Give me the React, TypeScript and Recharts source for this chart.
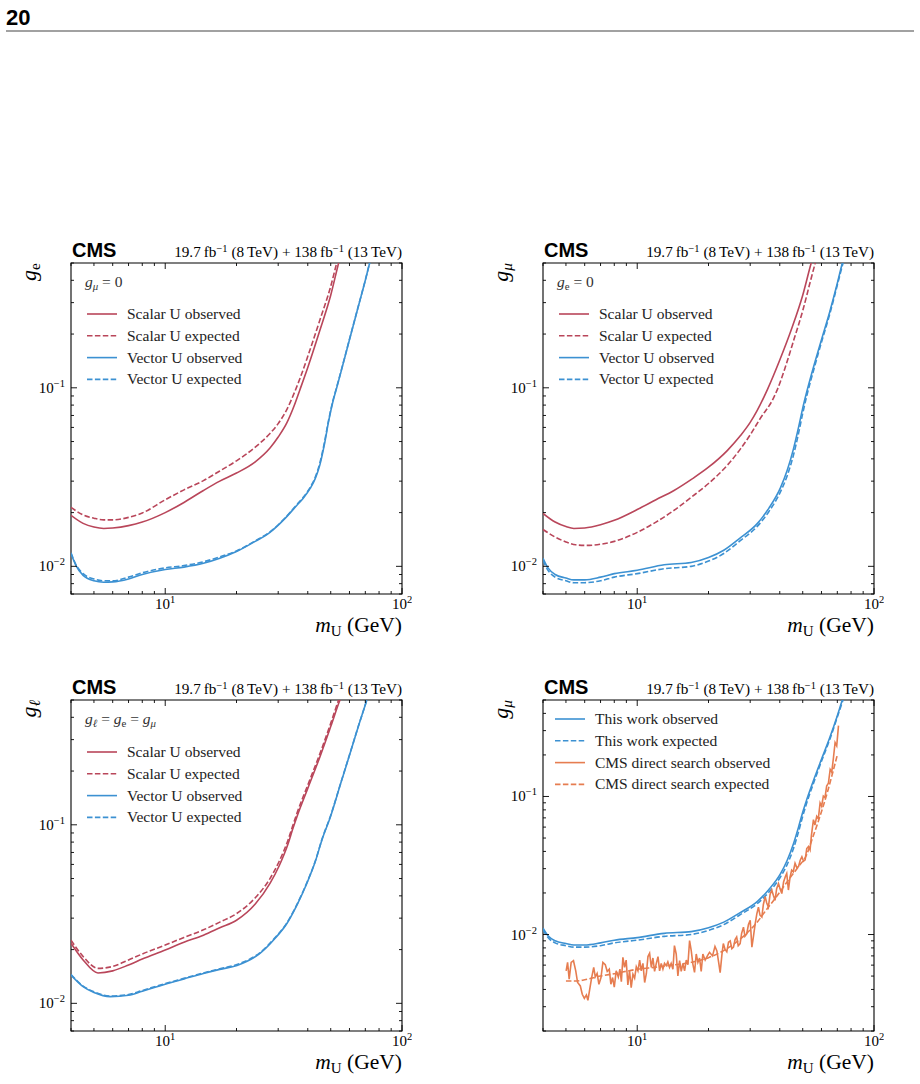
import React from 'react';
import { LineChart, Line, XAxis, YAxis, ReferenceArea } from 'recharts';

type Pt = [number, number]; // [m_U in GeV, coupling]

const RED = '#b9465a';
const BLUE = '#3c91d2';
const ORANGE = '#e67d50';
const DASH = '5.5 2.4';
const SERIF = '"Liberation Serif", "DejaVu Serif", serif';
const SANS = '"Liberation Sans", Arial, sans-serif';

// electron coupling, g_mu = 0
const eScalarObs: Pt[] = [
  [4, 0.0193], [4.5, 0.0174], [5, 0.0166], [5.5, 0.0163], [6, 0.0164], [7, 0.0169], [8, 0.0177],
  [10, 0.0200], [12, 0.0228], [14.5, 0.0266], [17, 0.0300], [20, 0.0333], [24, 0.0385], [27.7, 0.0460],
  [30, 0.0530], [32.7, 0.0640], [35, 0.0790], [37, 0.0970], [40, 0.130], [45, 0.210], [50, 0.330],
  [54, 0.50], [57, 0.65],
];
const eScalarExp: Pt[] = [
  [4, 0.0214], [4.5, 0.0194], [5, 0.0186], [5.5, 0.0182], [6, 0.0182], [7, 0.0188], [8, 0.0199],
  [10, 0.0236], [12, 0.0268], [14.5, 0.0302], [17, 0.0342], [20, 0.0390], [24, 0.0465], [27.7, 0.0555],
  [30, 0.0630], [32.7, 0.0760], [35, 0.0930], [37, 0.112], [40, 0.150], [45, 0.240], [50, 0.370],
  [53, 0.50], [56, 0.65],
];
const eVectorObs: Pt[] = [
  [4, 0.0118], [4.2, 0.0101], [4.5, 0.0089], [5, 0.0083], [5.5, 0.00815], [6, 0.00818], [7, 0.0085],
  [8, 0.0090], [10, 0.0096], [12, 0.0099], [14.5, 0.0104], [17, 0.0111], [20, 0.0121], [24, 0.0138],
  [27.7, 0.0155], [32, 0.0185], [36, 0.0220], [38.2, 0.0240], [41, 0.0274], [43, 0.0310], [45, 0.0370],
  [47, 0.0480], [49, 0.0650], [51, 0.0830], [53, 0.100], [55, 0.120], [60, 0.186], [65, 0.277],
  [70, 0.400], [73, 0.50], [76, 0.61],
];
const eVectorExp: Pt[] = [
  [4, 0.0119], [4.2, 0.0102], [4.5, 0.0091], [5, 0.0085], [5.5, 0.0083], [6, 0.0083], [7, 0.0087],
  [8, 0.0092], [10, 0.0098], [12, 0.0101], [14.5, 0.0106], [17, 0.0113], [20, 0.0122], [24, 0.0139],
  [27.7, 0.0156], [32, 0.0186], [36, 0.0222], [38.2, 0.0243], [41, 0.0278], [43, 0.0315], [45, 0.0380],
  [47, 0.0492], [49, 0.0660], [51, 0.0840], [53, 0.101], [55, 0.121], [60, 0.187], [65, 0.278],
  [70, 0.401], [73, 0.50], [76, 0.61],
];

// muon coupling, g_e = 0
const muScalarObs: Pt[] = [
  [4, 0.0198], [4.5, 0.0177], [5, 0.0167], [5.4, 0.0163], [6, 0.0164], [7, 0.0171], [8, 0.0181],
  [10, 0.0208], [12, 0.0236], [14.3, 0.0266], [17, 0.0308], [20, 0.0359], [24, 0.0445], [27.3, 0.0540],
  [30, 0.0640], [32, 0.0740], [35.5, 0.098], [40, 0.143], [45, 0.216], [50, 0.330], [54.3, 0.50],
  [57, 0.62],
];
const muScalarExp: Pt[] = [
  [4, 0.0161], [4.5, 0.0146], [5, 0.0137], [5.5, 0.0132], [6.1, 0.0131], [7, 0.0133], [8, 0.0138],
  [10, 0.0155], [12, 0.0177], [14.3, 0.0206], [17, 0.0245], [20, 0.0291], [24, 0.0368], [27.3, 0.0455],
  [30, 0.0545], [33, 0.0670], [37.7, 0.0880], [39.1, 0.098], [42, 0.128], [46, 0.188], [50, 0.270],
  [54, 0.400], [56.5, 0.50], [59, 0.60],
];
const muVectorObs: Pt[] = [
  [4, 0.0111], [4.2, 0.0098], [4.5, 0.0090], [5, 0.0086], [5.4, 0.0084], [6, 0.0084], [7, 0.0087],
  [8, 0.0091], [10, 0.0095], [13, 0.0102], [16.9, 0.0105], [20, 0.0112], [23.2, 0.0123], [27, 0.0143],
  [32.2, 0.0174], [36, 0.0212], [40.3, 0.0276], [43, 0.0345], [45.7, 0.0455], [48, 0.0600], [50, 0.0770],
  [52, 0.095], [56, 0.136], [60, 0.186], [65, 0.266], [70, 0.385], [73.5, 0.50], [77, 0.62],
];
const muVectorExp: Pt[] = [
  [4, 0.0108], [4.2, 0.0095], [4.5, 0.0087], [5, 0.0083], [5.4, 0.0081], [6, 0.0081], [7, 0.0083],
  [8, 0.0087], [10, 0.0091], [13, 0.0097], [16.9, 0.0100], [20, 0.0107], [23.2, 0.0118], [27, 0.0138],
  [32.2, 0.0168], [36, 0.0203], [40.3, 0.0262], [43, 0.0322], [45.7, 0.0420], [48, 0.0555], [50, 0.0720],
  [52, 0.0900], [56, 0.130], [60, 0.180], [65, 0.258], [70, 0.376], [74, 0.50], [77, 0.60],
];

// universal lepton coupling, g_l = g_e = g_mu
const lScalarObs: Pt[] = [
  [4, 0.0217], [4.5, 0.0175], [5.2, 0.0148], [6, 0.0152], [7, 0.0164], [8, 0.0177], [10, 0.0199],
  [12, 0.0220], [14.5, 0.0241], [17, 0.0265], [20, 0.0292], [24, 0.0360], [27.7, 0.0470], [30.3, 0.0590],
  [33, 0.0780], [34.5, 0.0940], [36, 0.111], [40, 0.160], [45, 0.240], [50, 0.355], [54.7, 0.50],
  [58, 0.60],
];
const lScalarExp: Pt[] = [
  [4, 0.0226], [4.5, 0.0183], [5.2, 0.0157], [6, 0.0161], [7, 0.0175], [8, 0.0189], [10, 0.0212],
  [12, 0.0234], [14.5, 0.0258], [17, 0.0285], [20, 0.0318], [24, 0.0390], [27.7, 0.0500], [30.3, 0.0625],
  [33, 0.0820], [34.5, 0.0980], [36, 0.116], [40, 0.167], [45, 0.250], [50, 0.370], [54, 0.50],
  [57, 0.60],
];
const lVectorObs: Pt[] = [
  [4, 0.0144], [4.5, 0.0124], [5, 0.0115], [5.86, 0.0109], [7, 0.0111], [8, 0.0117], [10, 0.0128],
  [12, 0.0137], [14.5, 0.0147], [17, 0.0155], [20.1, 0.0163], [25.2, 0.0191], [29, 0.0230], [32.7, 0.0281],
  [36, 0.0355], [39.7, 0.0472], [43, 0.0620], [46, 0.0830], [50, 0.112], [55, 0.169], [60, 0.245],
  [65, 0.346], [71, 0.50], [74, 0.60],
];
const lVectorExp: Pt[] = [
  [4, 0.0145], [4.5, 0.0125], [5, 0.0116], [5.86, 0.0110], [7, 0.0112], [8, 0.0118], [10, 0.0129],
  [12, 0.0138], [14.5, 0.0148], [17, 0.0156], [20.1, 0.0165], [25.2, 0.0193], [29, 0.0232], [32.7, 0.0283],
  [36, 0.0358], [39.7, 0.0476], [43, 0.0625], [46, 0.0836], [50, 0.113], [55, 0.170], [60, 0.246],
  [65, 0.347], [71, 0.50], [74, 0.60],
];

// CMS direct search (muon)
const cmsDirectObs: Pt[] = [
  [5.01, 0.00546], [5.08, 0.00628], [5.16, 0.00475], [5.26, 0.00628], [5.38, 0.00646], [5.50, 0.00546],
  [5.60, 0.00449], [5.75, 0.00424], [5.86, 0.00369], [5.98, 0.00345], [6.10, 0.00365], [6.19, 0.00334],
  [6.30, 0.00401], [6.42, 0.00488], [6.55, 0.00578], [6.65, 0.00493], [6.77, 0.00522], [6.89, 0.00436],
  [7.03, 0.00488], [7.16, 0.00628], [7.33, 0.00604], [7.47, 0.0054], [7.62, 0.00561], [7.74, 0.00436],
  [7.87, 0.00488], [8.00, 0.00416], [8.15, 0.00546], [8.32, 0.00493], [8.45, 0.00561], [8.57, 0.00456],
  [8.70, 0.00684], [8.84, 0.00578], [8.98, 0.00653], [9.13, 0.00431], [9.28, 0.00546], [9.43, 0.00412],
  [9.59, 0.00516], [9.75, 0.00483], [9.91, 0.00584], [10.07, 0.00546], [10.24, 0.00653], [10.40, 0.00546],
  [10.57, 0.00618], [10.75, 0.00449], [10.93, 0.00522], [11.10, 0.00692], [11.28, 0.00731], [11.47, 0.00578],
  [11.65, 0.00676], [11.84, 0.0054], [12.04, 0.00618], [12.24, 0.00692], [12.43, 0.00546], [12.63, 0.00618],
  [12.84, 0.00561], [13.04, 0.00618], [13.26, 0.00595], [13.47, 0.00634], [13.69, 0.00578], [13.91, 0.00618],
  [14.15, 0.00561], [14.36, 0.00831], [14.61, 0.00723], [14.85, 0.00502], [15.10, 0.00646], [15.34, 0.0054],
  [15.59, 0.00618], [15.85, 0.00546], [16.11, 0.00653], [16.37, 0.00604], [16.64, 0.00904], [16.91, 0.00764],
  [17.18, 0.00611], [17.46, 0.00531], [17.75, 0.00723], [18.04, 0.00628], [18.33, 0.00676], [18.63, 0.0054],
  [18.93, 0.00723], [19.36, 0.00653], [19.81, 0.00703], [20.2, 0.00743], [20.8, 0.0070], [21.3, 0.0082],
  [21.7, 0.0076], [22.1, 0.0062], [22.4, 0.0053], [22.8, 0.0072], [23.1, 0.0086], [23.5, 0.0078],
  [23.9, 0.0075], [24.3, 0.0088], [24.7, 0.0090], [25.1, 0.0079], [25.5, 0.0081], [25.9, 0.0092],
  [26.3, 0.0096], [26.7, 0.0083], [27.2, 0.0086], [27.6, 0.0102], [28.1, 0.0113], [28.5, 0.0097],
  [29.0, 0.0101], [29.5, 0.0118], [30.0, 0.0127], [30.5, 0.0081], [31.0, 0.0098], [31.5, 0.0120],
  [32.0, 0.0141], [32.5, 0.0158], [33.0, 0.0138], [33.6, 0.0134], [34.1, 0.0165], [34.7, 0.0188],
  [35.2, 0.0170], [35.8, 0.0158], [36.4, 0.0195], [37.0, 0.0210], [37.6, 0.0192], [38.2, 0.0177],
  [38.8, 0.0215], [39.5, 0.0234], [40.1, 0.0215], [40.8, 0.0198], [41.5, 0.0240], [42.2, 0.0262],
  [42.8, 0.0277], [43.5, 0.0210], [44.2, 0.0260], [44.9, 0.0293], [45.6, 0.0285], [46.4, 0.0328],
  [47.2, 0.0305], [48.0, 0.0311], [48.8, 0.0345], [49.6, 0.0366], [50.4, 0.0340], [51.2, 0.0347],
  [52.0, 0.0420], [52.9, 0.0434], [53.7, 0.0410], [54.4, 0.0520], [55.5, 0.0680], [56.3, 0.0620],
  [57.3, 0.0718], [58.2, 0.0690], [59.2, 0.0899], [60.1, 0.0850], [61.1, 0.1005], [62.1, 0.0980],
  [63.1, 0.119], [64.2, 0.125], [65.3, 0.157], [66.3, 0.150], [67.3, 0.186], [68.5, 0.246],
  [69.6, 0.233], [70.8, 0.326],
];
const cmsDirectExp: Pt[] = [
  [5, 0.0046], [5.5, 0.0046], [6, 0.0047], [7, 0.0050], [8, 0.0052], [10, 0.0056], [12, 0.0058],
  [14, 0.0060], [17, 0.0063], [20, 0.0068], [23, 0.0076], [26, 0.0087], [29, 0.0102], [32, 0.0122],
  [35, 0.0150], [38, 0.0180], [41, 0.0215], [44, 0.0255], [48, 0.031], [52, 0.038], [55, 0.050],
  [58, 0.065], [61, 0.085], [64, 0.112], [67, 0.150], [70, 0.200],
];

const massTicks = [4, 5, 6, 7, 8, 9, 10, 20, 30, 40, 50, 60, 70, 80, 90, 100];
const gTicksUpper = [0.007, 0.008, 0.009, 0.01, 0.02, 0.03, 0.04, 0.05, 0.06, 0.07, 0.08, 0.09, 0.1, 0.2, 0.3, 0.4, 0.5];
const gTicksLower = [0.002, 0.003, 0.004, 0.005, 0.006, ...gTicksUpper];
const tickExp: Record<string, string> = { '10': '1', '100': '2', '0.01': '\u22122', '0.1': '\u22121' };

const PLOT = 331;
const YW = 60;
const MT = 10;
const MR = 10;
const XH = 30;
const CW = YW + PLOT + MR;
const CH = MT + PLOT + XH;

const rows = (pts: Pt[]) => pts.map(([m, g]) => ({ m, g }));

const XTick = (props: any) => {
  const { x, payload } = props;
  const exp = tickExp[String(payload.value)];
  const len = exp ? 6 : 3;
  const bottom = MT + PLOT;
  return (
    <g>
      <line x1={x} x2={x} y1={bottom} y2={bottom - len} stroke="#000" strokeWidth={0.9} />
      <line x1={x} x2={x} y1={MT} y2={MT + len} stroke="#000" strokeWidth={0.9} />
      {exp && (
        <text x={x} y={bottom + 15} textAnchor="middle" fontFamily={SERIF} fontSize={15} fill="#000">
          10<tspan dy={-6} fontSize={10.5}>{exp}</tspan>
        </text>
      )}
    </g>
  );
};

const YTick = (props: any) => {
  const { y, payload } = props;
  const exp = tickExp[String(payload.value)];
  const len = exp ? 6 : 3;
  const right = YW + PLOT;
  return (
    <g>
      <line x1={YW} x2={YW + len} y1={y} y2={y} stroke="#000" strokeWidth={0.9} />
      <line x1={right} x2={right - len} y1={y} y2={y} stroke="#000" strokeWidth={0.9} />
      {exp && (
        <text x={YW - 6} y={y + 5} textAnchor="end" fontFamily={SERIF} fontSize={15} fill="#000">
          10<tspan dy={-6} fontSize={10.5}>{exp}</tspan>
        </text>
      )}
    </g>
  );
};

interface Series { name: string; pts: Pt[]; color: string; dashed?: boolean; linear?: boolean }
interface PanelCfg {
  left: number;
  top: number;
  yDomain: [number, number];
  yTicks: number[];
  series: Series[];
  ySub: string;
  ySubItalic: boolean;
  noteRows?: React.ReactNode;
  legendTop: number;
  legendX: number;
}

const scalarVector = (so: Pt[], se: Pt[], vo: Pt[], ve: Pt[]): Series[] => [
  { name: 'Scalar U observed', pts: so, color: RED },
  { name: 'Scalar U expected', pts: se, color: RED, dashed: true },
  { name: 'Vector U observed', pts: vo, color: BLUE },
  { name: 'Vector U expected', pts: ve, color: BLUE, dashed: true },
];

const NFS = 15.5;
const sub = (s: string, italic: boolean, key: string) => [
  <tspan key={key + 'g'} fontStyle="italic">g</tspan>,
  <tspan key={key + 's'} fontStyle={italic ? 'italic' : 'normal'} fontSize={NFS * 0.7} dy={3.4}>{s}</tspan>,
];

const panels: PanelCfg[] = [
  {
    left: 71, top: 263, yDomain: [0.007, 0.5], yTicks: gTicksUpper, ySub: 'e', ySubItalic: false,
    series: scalarVector(eScalarObs, eScalarExp, eVectorObs, eVectorExp),
    noteRows: [...sub('\u03bc', true, 'a'), <tspan key="r" dy={-3.4}> = 0</tspan>],
    legendTop: 51, legendX: 16,
  },
  {
    left: 543, top: 263, yDomain: [0.007, 0.5], yTicks: gTicksUpper, ySub: '\u03bc', ySubItalic: true,
    series: scalarVector(muScalarObs, muScalarExp, muVectorObs, muVectorExp),
    noteRows: [...sub('e', false, 'a'), <tspan key="r" dy={-3.4}> = 0</tspan>],
    legendTop: 51, legendX: 16,
  },
  {
    left: 71, top: 700, yDomain: [0.007, 0.5], yTicks: gTicksUpper, ySub: '\u2113', ySubItalic: true,
    series: scalarVector(lScalarObs, lScalarExp, lVectorObs, lVectorExp),
    noteRows: [
      ...sub('\u2113', true, 'a'), <tspan key="r1" dy={-3.4}> = </tspan>,
      ...sub('e', false, 'b'), <tspan key="r2" dy={-3.4}> = </tspan>,
      ...sub('\u03bc', true, 'c'),
    ],
    legendTop: 52, legendX: 16,
  },
  {
    left: 543, top: 700, yDomain: [0.002, 0.5], yTicks: gTicksLower, ySub: '\u03bc', ySubItalic: true,
    series: [
      { name: 'This work observed', pts: muVectorObs, color: BLUE },
      { name: 'This work expected', pts: muVectorExp, color: BLUE, dashed: true },
      { name: 'CMS direct search observed', pts: cmsDirectObs, color: ORANGE, linear: true },
      { name: 'CMS direct search expected', pts: cmsDirectExp, color: ORANGE, dashed: true },
    ],
    legendTop: 19, legendX: 12,
  },
];

const Panel = ({ cfg }: { cfg: PanelCfg }) => (
  <div style={{ position: 'absolute', left: cfg.left - YW, top: cfg.top - MT }}>
    <LineChart width={CW} height={CH} margin={{ top: MT, right: MR, left: 0, bottom: 0 }}>
      <XAxis
        dataKey="m" type="number" scale="log" domain={[4, 100]} ticks={massTicks} interval={0}
        allowDataOverflow tickLine={false} axisLine={false} height={XH} tick={XTick}
      />
      <YAxis
        type="number" scale="log" domain={cfg.yDomain} ticks={cfg.yTicks} interval={0}
        allowDataOverflow tickLine={false} axisLine={false} width={YW} tick={YTick}
      />
      {cfg.series.map((s) => (
        <Line
          key={s.name} name={s.name} data={rows(s.pts)} dataKey="g"
          type={s.linear ? 'linear' : 'monotone'} stroke={s.color} strokeWidth={1.6}
          strokeDasharray={s.dashed ? DASH : undefined} dot={false} activeDot={false}
          isAnimationActive={false}
        />
      ))}
      <ReferenceArea x1={4} x2={100} y1={cfg.yDomain[0]} y2={cfg.yDomain[1]} fill="none" stroke="#000" strokeWidth={1.1} />
    </LineChart>
  </div>
);

const Sup = ({ t }: { t: string }) => <tspan dy={-5.5} fontSize={10.5}>{t}</tspan>;

const PanelText = ({ cfg }: { cfg: PanelCfg }) => {
  const { left: x, top: y } = cfg;
  const right = x + PLOT;
  const bottom = y + PLOT;
  return (
    <g>
      <text x={x + 1} y={y - 6} fontFamily={SANS} fontWeight="bold" fontSize={20} fill="#000">CMS</text>
      <text x={right} y={y - 6} textAnchor="end" fontFamily={SERIF} fontSize={15.2} fill="#000" style={{ whiteSpace: 'pre' }}>
        19.7{'\u2009'}fb<Sup t={'\u22121'} />
        <tspan dy={5.5}> (8{'\u2009'}TeV) + 138{'\u2009'}fb</tspan>
        <Sup t={'\u22121'} />
        <tspan dy={5.5}> (13{'\u2009'}TeV)</tspan>
      </text>
      <text
        x={x - 35} y={y} textAnchor="end" transform={`rotate(-90 ${x - 35} ${y})`}
        fontFamily={SERIF} fontSize={22} fill="#000"
      >
        <tspan fontStyle="italic">g</tspan>
        <tspan fontStyle={cfg.ySubItalic ? 'italic' : 'normal'} fontSize={15.5} dy={4}>{cfg.ySub}</tspan>
      </text>
      <text x={right} y={bottom + 38} textAnchor="end" fontFamily={SERIF} fontSize={21.5} fill="#000" style={{ whiteSpace: 'pre' }}>
        <tspan fontStyle="italic">m</tspan>
        <tspan fontSize={15} dy={4}>U</tspan>
        <tspan dy={-4}> (GeV)</tspan>
      </text>
      {cfg.noteRows && (
        <text x={x + 14} y={y + 24} fontFamily={SERIF} fontSize={NFS} fill="#333" style={{ whiteSpace: 'pre' }}>
          {cfg.noteRows}
        </text>
      )}
      {cfg.series.map((s, i) => {
        const cy = y + cfg.legendTop + i * 21.8;
        return (
          <g key={s.name}>
            <line
              x1={x + cfg.legendX} x2={x + cfg.legendX + 30} y1={cy} y2={cy} stroke={s.color}
              strokeWidth={1.6} strokeDasharray={s.dashed ? DASH : undefined}
            />
            <text x={x + cfg.legendX + 40} y={cy + 5} fontFamily={SERIF} fontSize={NFS} fill="#222">{s.name}</text>
          </g>
        );
      })}
    </g>
  );
};

export default function App() {
  return (
    <div style={{ position: 'absolute', left: 0, top: 0, width: 920, height: 1084, background: '#fff' }}>
      {panels.map((p, i) => (
        <Panel key={i} cfg={p} />
      ))}
      <svg width={920} height={1084} style={{ position: 'absolute', left: 0, top: 0, pointerEvents: 'none' }}>
        <text x={6} y={25} fontFamily={SANS} fontWeight="bold" fontSize={22} fill="#000">20</text>
        <line x1={6} x2={914} y1={31} y2={31} stroke="#444" strokeWidth={1.2} />
        {panels.map((p, i) => (
          <PanelText key={i} cfg={p} />
        ))}
      </svg>
    </div>
  );
}
